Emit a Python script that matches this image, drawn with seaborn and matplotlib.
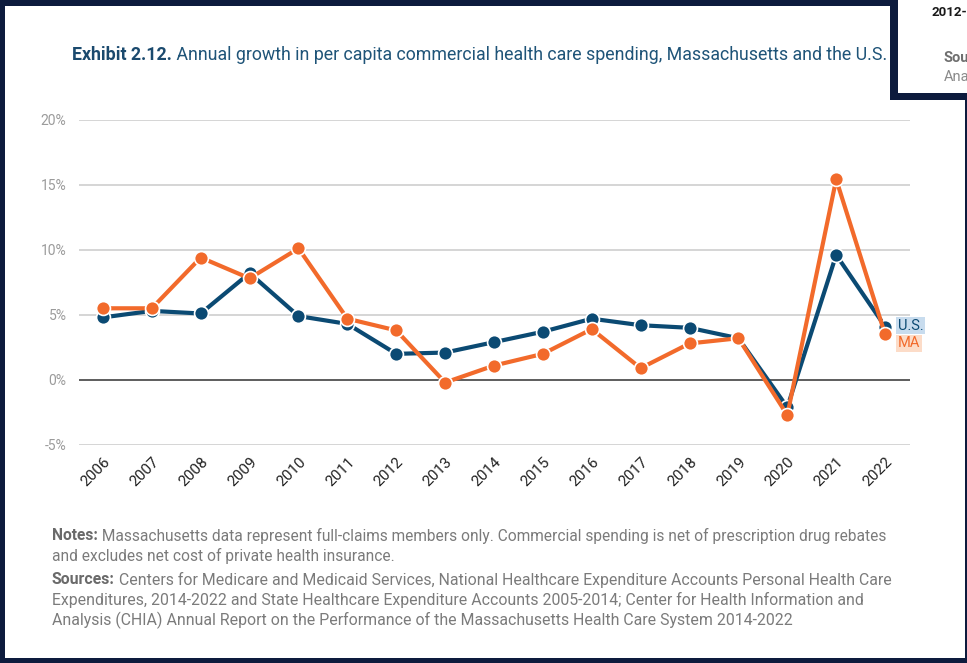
import matplotlib
matplotlib.use("Agg")
import matplotlib.pyplot as plt
from matplotlib.patches import Rectangle
import pandas as pd
import seaborn as sns

# ---- data -------------------------------------------------------------
years = [2006, 2007, 2008, 2009, 2010, 2011, 2012, 2013, 2014,
         2015, 2016, 2017, 2018, 2019, 2020, 2021, 2022]
us_growth = [4.8, 5.3, 5.1, 8.2, 4.9, 4.3, 2.0, 2.1, 2.9,
             3.7, 4.7, 4.2, 4.0, 3.2, -2.1, 9.6, 4.1]
ma_growth = [5.5, 5.5, 9.4, 7.8, 10.1, 4.7, 3.8, -0.2, 1.1,
             2.0, 3.9, 0.9, 2.8, 3.2, -2.7, 15.4, 3.5]
series_names = ["U.S.", "MA"]
y_ticks = [-5, 0, 5, 10, 15, 20]
y_tick_labels = ["-5%", "0%", "5%", "10%", "15%", "20%"]

title_bold = "Exhibit 2.12."
title_rest = " Annual growth in per capita commercial health care spending, Massachusetts and the U.S."
notes = [
    ("Notes:", " Massachusetts data represent full-claims members only. Commercial spending is net of prescription drug rebates"),
    ("", "and excludes net cost of private health insurance."),
]
sources = [
    ("Sources:", " Centers for Medicare and Medicaid Services, National Healthcare Expenditure Accounts Personal Health Care"),
    ("", "Expenditures, 2014-2022 and State Healthcare Expenditure Accounts 2005-2014; Center for Health Information and"),
    ("", "Analysis (CHIA) Annual Report on the Performance of the Massachusetts Health Care System 2014-2022"),
]

NAVY = "#0b4a73"
ORANGE = "#f26a2b"
FRAME = "#0d1b3d"

df = pd.DataFrame({
    "Year": years * 2,
    "Growth": us_growth + ma_growth,
    "Series": [series_names[0]] * len(years) + [series_names[1]] * len(years),
})

# ---- figure -----------------------------------------------------------
sns.set_theme(style="white")
plt.rcParams["font.family"] = ["Roboto", "DejaVu Sans"]

W, H = 967, 663
fig = plt.figure(figsize=(W / 100, H / 100), dpi=100, facecolor=FRAME)


def fx(px):
    return px / W


def fy(py):
    return 1 - py / H


# white page inside the dark frame
fig.patches.append(Rectangle((fx(5), fy(658)), fx(965) - fx(5), fy(6) - fy(658),
                             transform=fig.transFigure, facecolor="white",
                             edgecolor="none", zorder=-5))

# neighbouring page peeking in at the top right
fig.patches.append(Rectangle((fx(890), fy(100)), fx(967) - fx(890), fy(0) - fy(100),
                             transform=fig.transFigure, facecolor=FRAME,
                             edgecolor="none", zorder=20))
fig.patches.append(Rectangle((fx(898), fy(93)), fx(967) - fx(898), fy(0) - fy(93),
                             transform=fig.transFigure, facecolor="white",
                             edgecolor="none", zorder=21))
fig.text(fx(931), fy(13), "2012-", fontsize=9.5, weight="bold", color="#1a1a1a",
         va="center", ha="left", zorder=22)
fig.text(fx(944), fy(58), "Sou", fontsize=10.5, weight="bold", color="#6f6f6f",
         va="center", ha="left", zorder=22)
fig.text(fx(944), fy(77), "Ana", fontsize=10.5, color="#8a8a8a",
         va="center", ha="left", zorder=22)

# ---- chart ------------------------------------------------------------
ax = fig.add_axes([fx(79), fy(445), fx(910) - fx(79), fy(119.5) - fy(445)])
ax.set_facecolor("none")

sns.lineplot(data=df, x="Year", y="Growth", hue="Series", hue_order=series_names,
             palette={series_names[0]: NAVY, series_names[1]: ORANGE},
             marker="o", markersize=10, markeredgecolor="white",
             markeredgewidth=1.2, linewidth=3.0, legend=False, ax=ax,
             clip_on=False, zorder=3)

ax.set_xlim(years[0] - 0.49, years[-1] + 0.51)
ax.set_ylim(y_ticks[0], y_ticks[-1])
ax.set_yticks(y_ticks)
ax.set_yticklabels(y_tick_labels)
ax.set_xticks(years)
ax.set_xticklabels([str(y) for y in years])
ax.set_xlabel("")
ax.set_ylabel("")
ax.set_axisbelow(True)
ax.yaxis.grid(True, color="#d2d2d2", linewidth=1.3)
ax.xaxis.grid(False)
ax.axhline(0, color="#555555", linewidth=1.3, zorder=1)
for sp in ax.spines.values():
    sp.set_visible(False)
ax.tick_params(axis="y", length=0, pad=9, labelsize=10, labelcolor="#9b9b9b")
ax.tick_params(axis="x", length=0, pad=7, labelsize=11, labelcolor="#222222")
for lbl in ax.get_xticklabels():
    lbl.set_rotation(45)
    lbl.set_ha("right")
    lbl.set_va("top")
    lbl.set_rotation_mode("anchor")

# end-of-line series labels
ax.annotate(series_names[0], xy=(years[-1], us_growth[-1]), xytext=(13, 1),
            textcoords="offset pixels", ha="left", va="center", fontsize=10.5,
            color=NAVY, annotation_clip=False,
            bbox=dict(boxstyle="square,pad=0.12", fc="#c8dcee", ec="none"))
ax.annotate(series_names[1], xy=(years[-1], ma_growth[-1]), xytext=(13, -9),
            textcoords="offset pixels", ha="left", va="center", fontsize=10.5,
            color=ORANGE, annotation_clip=False,
            bbox=dict(boxstyle="square,pad=0.12", fc="#fcdcc8", ec="none"))

# ---- title and footnotes ----------------------------------------------
renderer = fig.canvas.get_renderer()


def two_part(x_px, y_px, bold, rest, size, bold_color, rest_color):
    x = fx(x_px)
    if bold:
        t = fig.text(x, fy(y_px), bold, fontsize=size, weight="bold",
                     color=bold_color, va="center", ha="left")
        bb = t.get_window_extent(renderer=renderer)
        x = fx(x_px + bb.width)
    fig.text(x, fy(y_px), rest, fontsize=size, color=rest_color,
             va="center", ha="left")


two_part(72, 55, title_bold, title_rest, 12.8, "#1b4a6e", "#1f5478")

for i, (b, r) in enumerate(notes):
    two_part(52, 536 + 19.5 * i, b, r, 11.2, "#6a6a6a", "#7b7b7b")
for i, (b, r) in enumerate(sources):
    two_part(52, 580 + 20 * i, b, r, 11.4, "#6a6a6a", "#7b7b7b")

fig.savefig("out.png", dpi=100, facecolor=FRAME)
